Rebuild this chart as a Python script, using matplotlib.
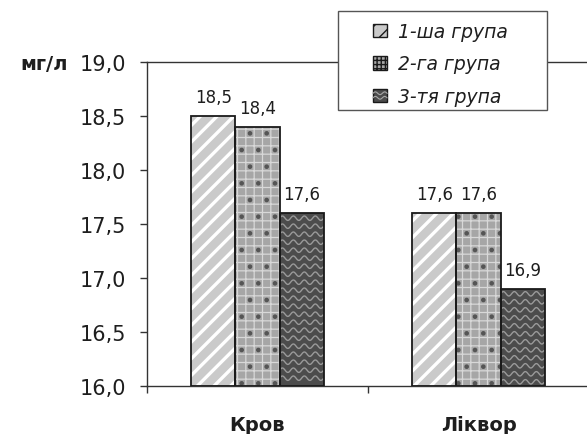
import numpy as np
import matplotlib
matplotlib.use('Agg')
import matplotlib.pyplot as plt
from matplotlib.patches import Rectangle
from matplotlib.lines import Line2D
from matplotlib.legend_handler import HandlerPatch
from matplotlib.transforms import IdentityTransform

categories = ['Кров', 'Ліквор']
groups = ['1-ша група', '2-га група', '3-тя група']
group1 = [18.5, 17.6]
group2 = [18.4, 17.6]
group3 = [17.6, 16.9]
yticks = [16.0, 16.5, 17.0, 17.5, 18.0, 18.5, 19.0]
unit_label = 'мг/л'

BASE = 16.0
TEXT = '#1e1e1e'
plt.rcParams['font.family'] = ['DejaVu Sans']


def fmt(v):
    return f'{v:.1f}'.replace('.', ',')


W, H = 587, 435
fig = plt.figure(figsize=(W / 100, H / 100), dpi=100)
ax = fig.add_axes([147 / W, 48 / H, 442 / W, 324 / H])
ax.set_xlim(0, 2)
ax.set_ylim(BASE, 19.0)

x = np.arange(len(categories)) + 0.5
width = 0.2
offsets = [-width, 0.0, width]


def hatched_bars(values, off, face, hatch, hcolor, hlw):
    with plt.rc_context({'hatch.linewidth': hlw}):
        bars = ax.bar(x + off, np.subtract(values, BASE), width, bottom=BASE,
                      color=face, edgecolor=hcolor, linewidth=0, hatch=hatch,
                      zorder=2)
    for b in bars:
        if hasattr(b, 'set_hatch_linewidth'):
            b.set_hatch_linewidth(hlw)
    return bars


def outline_bars(values, off):
    return ax.bar(x + off, np.subtract(values, BASE), width, bottom=BASE,
                  fill=False, edgecolor='#1a1a1a', linewidth=1.3, zorder=4)


def add_waves(bars, period=11.0, spacing=8.0, amp=2.2, color='#9a9a9a'):
    """Light wavy lines drawn inside each bar, in pixel space."""
    for b in bars:
        (x0, y0), (x1, y1) = ax.transData.transform(
            [(b.get_x(), b.get_y()),
             (b.get_x() + b.get_width(), b.get_y() + b.get_height())])
        xs = np.linspace(x0 + 1, x1 - 1, 120)
        yc = y1 - spacing / 2 - 1
        while yc - amp > y0 + 1:
            ys = yc + amp * np.sin(2 * np.pi * (xs - x0) / period)
            ax.add_artist(Line2D(xs, ys, transform=IdentityTransform(),
                                 color=color, lw=1.0, zorder=3))
            yc -= spacing


# group 1: light grey with white diagonal stripes
hatched_bars(group1, offsets[0], '#cacaca', '//', 'white', 2.4)
# group 2: mid grey with light grid and dark dots
hatched_bars(group2, offsets[1], '#a6a6a6', '++', '#d8d8d8', 0.9)
with plt.rc_context({'hatch.linewidth': 0.9}):
    ax.bar(x + offsets[1], np.subtract(group2, BASE), width, bottom=BASE,
           fill=False, edgecolor='#555555', linewidth=0, hatch='.', zorder=3)
# group 3: dark grey with light wavy lines
b3 = ax.bar(x + offsets[2], np.subtract(group3, BASE), width, bottom=BASE,
            color='#4c4c4c', linewidth=0, zorder=2)
add_waves(b3)

for vals, off in zip([group1, group2, group3], offsets):
    outline_bars(vals, off)
    for xi, v in zip(x + off, vals):
        ax.annotate(fmt(v), (xi, v), xytext=(0, 7), textcoords='offset points',
                    ha='center', va='bottom', fontsize=12, color=TEXT)

# axes styling
for side in ['left', 'bottom', 'top']:
    ax.spines[side].set_color('#333333')
    ax.spines[side].set_linewidth(1.0)
ax.spines['right'].set_visible(False)

ax.set_yticks(yticks)
ax.set_yticklabels([fmt(t) for t in yticks], fontsize=15, color=TEXT)
ax.tick_params(axis='y', direction='out', length=5, width=1, pad=10,
               color='#333333')

ax.set_xticks([0, 1, 2])
ax.set_xticklabels([])
ax.tick_params(axis='x', which='major', direction='out', length=5, width=1,
               color='#333333')

# category names under each group
for xi, cat in zip(x, categories):
    ax.annotate(cat, xy=(xi, 0), xycoords=('data', 'axes fraction'),
                xytext=(0, -44 * 0.72), textcoords='offset points',
                ha='center', va='baseline', fontsize=14, fontweight='bold',
                color=TEXT)

fig.text(68 / W, 1 - 64 / H, unit_label, ha='right', va='center',
         fontsize=14, fontweight='bold', color=TEXT)


class WaveHandler(HandlerPatch):
    def create_artists(self, legend, orig_handle, xdescent, ydescent, width,
                       height, fontsize, trans):
        arts = super().create_artists(legend, orig_handle, xdescent, ydescent,
                                      width, height, fontsize, trans)
        xs = np.linspace(-xdescent, -xdescent + width, 40)
        for frac in (0.33, 0.66):
            ys = -ydescent + height * (
                frac + 0.1 * np.sin(2 * np.pi * 1.5 * (xs + xdescent) / width))
            ln = Line2D(xs, ys, color='#a8a8a8', lw=0.8)
            ln.set_transform(trans)
            arts.append(ln)
        return arts


h1 = Rectangle((0, 0), 1, 1, facecolor='#cacaca', edgecolor='#1a1a1a',
               hatch='//', linewidth=1.0)
h2 = Rectangle((0, 0), 1, 1, facecolor='#a6a6a6', edgecolor='#1a1a1a',
               hatch='++++', linewidth=1.0)
h3 = Rectangle((0, 0), 1, 1, facecolor='#4c4c4c', edgecolor='#1a1a1a',
               linewidth=1.0)

# legend box (white, covers the top spine) and its entries
fig.patches.append(Rectangle((338 / W, 1 - 111 / H), 209 / W, 99 / H,
                             transform=fig.transFigure, facecolor='white',
                             edgecolor='#555555', linewidth=1.0, zorder=4))
leg = fig.legend([h1, h2, h3], groups, loc='upper left',
                 bbox_to_anchor=(373 / W, 1 - 23 / H),
                 prop={'size': 13.5, 'style': 'italic'},
                 handlelength=0.75, handleheight=0.75, handletextpad=0.6,
                 labelspacing=0.72, borderpad=0, borderaxespad=0,
                 frameon=False, handler_map={h3: WaveHandler()})
leg.set_zorder(5)
for t in leg.get_texts():
    t.set_color(TEXT)

fig.savefig('out.png', dpi=100)
